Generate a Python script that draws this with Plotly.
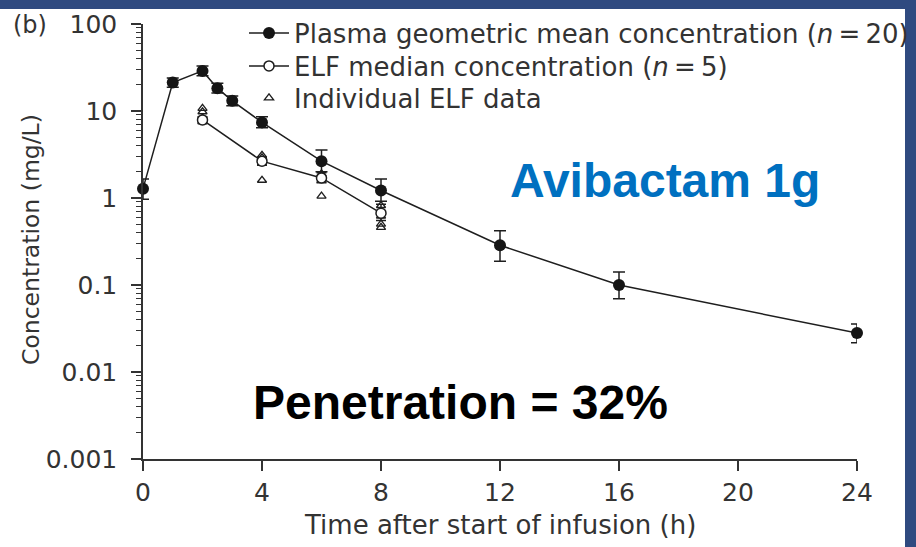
import plotly.graph_objects as go

# ---- data ----
t_plasma = [0, 1, 2, 2.5, 3, 4, 6, 8, 12, 16, 24]
c_plasma = [1.28, 21.2, 28.9, 18.3, 13.1, 7.4, 2.65, 1.22, 0.286, 0.100, 0.028]
plasma_hi = [1.65, 24.0, 33.0, 20.8, 14.9, 8.6, 3.56, 1.65, 0.42, 0.141, 0.0356]
plasma_lo = [0.97, 18.7, 25.4, 16.1, 11.5, 6.4, 2.0, 0.92, 0.187, 0.0697, 0.0217]

t_elf = [2, 4, 6, 8]
c_elf = [7.9, 2.65, 1.7, 0.67]
elf_hi = [8.6, 2.95, 1.95, 0.85]
elf_lo = [7.3, 2.4, 1.5, 0.55]

t_ind = [2, 2, 2, 2, 2, 4, 4, 4, 4, 4, 6, 6, 6, 6, 6, 8, 8, 8, 8, 8]
c_ind = [10.7, 9.8, 8.3, 7.9, 7.5,
         3.1, 2.9, 2.65, 2.5, 1.6,
         1.9, 1.75, 1.7, 1.6, 1.05,
         0.82, 0.67, 0.62, 0.5, 0.46]

x_ticks = [0, 4, 8, 12, 16, 20, 24]
y_ticks = [0.001, 0.01, 0.1, 1, 10, 100]
y_ticktext = ["0.001", "0.01", "0.1", "1", "10", "100"]

names = ["Plasma geometric mean concentration (<i>n</i>\u2009=\u200920)",
         "ELF median concentration (<i>n</i>\u2009=\u20095)",
         "Individual ELF data"]

FONT = "DejaVu Sans"
TXT = "#333333"
INK = "#1e1e1e"
BORDER = "#2f4a80"

W, H = 916, 547
L, R, T, B = 143, 59, 24, 88
pw, ph = W - L - R, H - T - B


def px_x(p):
    return (p - L) / pw


def px_y(p):
    return (H - B - p) / ph


fig = go.Figure()

fig.add_trace(go.Scatter(
    x=t_ind, y=c_ind, mode="markers", name=names[2], legend="legend3",
    marker=dict(symbol="triangle-up-open", size=8, color=INK,
                line=dict(width=1.3, color=INK)),
    cliponaxis=False))

fig.add_trace(go.Scatter(
    x=t_elf, y=c_elf, mode="lines+markers", name=names[1], legend="legend2",
    line=dict(color=INK, width=1.5),
    marker=dict(symbol="circle", size=10, color="white",
                line=dict(width=1.5, color=INK)),
    error_y=dict(type="data", symmetric=False,
                 array=[h - c for h, c in zip(elf_hi, c_elf)],
                 arrayminus=[c - l for l, c in zip(elf_lo, c_elf)],
                 color=INK, thickness=1.5, width=5),
    cliponaxis=False))

fig.add_trace(go.Scatter(
    x=t_plasma, y=c_plasma, mode="lines+markers", name=names[0], legend="legend",
    line=dict(color=INK, width=1.5),
    marker=dict(symbol="circle", size=12, color="#151515"),
    error_y=dict(type="data", symmetric=False,
                 array=[h - c for h, c in zip(plasma_hi, c_plasma)],
                 arrayminus=[c - l for l, c in zip(plasma_lo, c_plasma)],
                 color=INK, thickness=1.5, width=6),
    cliponaxis=False))

LEG_X = px_x(244)


def leg(ypix):
    return dict(x=LEG_X, y=px_y(ypix), xanchor="left", yanchor="middle",
                bgcolor="rgba(0,0,0,0)", font=dict(family=FONT, size=26, color=TXT),
                itemwidth=40, borderwidth=0)


fig.update_layout(
    width=W, height=H,
    margin=dict(l=L, r=R, t=T, b=B, pad=0, autoexpand=False),
    paper_bgcolor="white", plot_bgcolor="white",
    font=dict(family=FONT, size=25, color=TXT),
    showlegend=True,
    legend=leg(33), legend2=leg(66), legend3=leg(98),
    xaxis=dict(range=[0, 24], tickvals=x_ticks, ticks="outside", ticklen=10,
               tickwidth=1.5, tickcolor=TXT, showline=True, linecolor=TXT,
               linewidth=1.5, showgrid=False, zeroline=False,
               tickfont=dict(size=25, color=TXT)),
    yaxis=dict(type="log", range=[-3, 2], tickvals=y_ticks, ticktext=y_ticktext,
               ticks="outside", ticklen=10, tickwidth=1.5, tickcolor=TXT,
               showline=True, linecolor=TXT, linewidth=1.5, showgrid=False,
               zeroline=False, tickfont=dict(size=25, color=TXT),
               ticklabelstandoff=9,
               minor=dict(ticks="outside", ticklen=5, tickwidth=1, tickcolor=TXT,
                          dtick="D1", showgrid=False)),
    shapes=[
        dict(type="rect", xref="paper", yref="paper", x0=px_x(-5), x1=px_x(W + 5),
             y0=px_y(9), y1=px_y(-5), fillcolor=BORDER, line=dict(width=0), layer="above"),
        dict(type="rect", xref="paper", yref="paper", x0=px_x(905), x1=px_x(W + 5),
             y0=px_y(H + 5), y1=px_y(-5), fillcolor=BORDER, line=dict(width=0), layer="above"),
    ],
    annotations=[
        dict(text="(b)", xref="paper", yref="paper", x=px_x(30), y=px_y(25),
             showarrow=False, font=dict(size=24, color=TXT), xanchor="center", yanchor="middle"),
        dict(text="Concentration (mg/L)", xref="paper", yref="paper", x=px_x(31), y=px_y(240),
             textangle=-90, showarrow=False, font=dict(size=23.5, color=TXT),
             xanchor="center", yanchor="middle"),
        dict(text="Time after start of infusion (h)", xref="paper", yref="paper",
             x=0.5, y=px_y(525), showarrow=False, font=dict(size=26, color=TXT),
             xanchor="center", yanchor="middle"),
        dict(text="<b>Avibactam 1g</b>", xref="paper", yref="paper", x=px_x(665), y=px_y(180),
             showarrow=False, font=dict(family="Liberation Sans", size=48, color="#0070c0"),
             xanchor="center", yanchor="middle"),
        dict(text="<b>Penetration = 32%</b>", xref="paper", yref="paper", x=px_x(460), y=px_y(402),
             showarrow=False, font=dict(family="Liberation Sans", size=48, color="black"),
             xanchor="center", yanchor="middle"),
    ],
)

fig.write_html("out.html")
